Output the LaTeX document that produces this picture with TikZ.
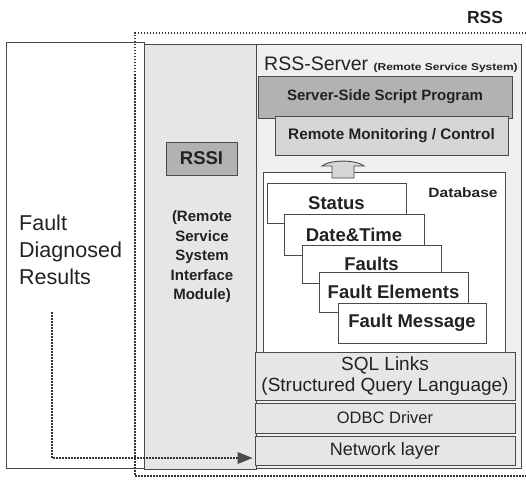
\documentclass[tikz,border=0pt]{standalone}
\usepackage{fontspec}
\setmainfont{Liberation Sans}
\usetikzlibrary{arrows.meta}
\definecolor{ln}{HTML}{4A4A4A}
\definecolor{dotc}{HTML}{333333}
\definecolor{txt}{HTML}{222222}
\definecolor{panel}{HTML}{E6E6E6}
\definecolor{server}{HTML}{F0F0F0}
\definecolor{dark}{HTML}{B2B2B2}
\definecolor{mid}{HTML}{D6D6D6}
\definecolor{layer}{HTML}{E6E6E6}
\begin{document}
\begin{tikzpicture}[x=1pt,y=-1pt,
  box/.style={draw=ln, line width=0.9pt, inner sep=0pt, text=txt, align=center},
  tbl/.style={box, fill=white, font=\fontsize{18.5}{22}\selectfont\bfseries},
  lay/.style={box, fill=layer, minimum width=260pt},
  dots/.style={draw=dotc, line width=1.6pt, dash pattern=on 1.5pt off 1.5pt}]
\useasboundingbox (0,0) rectangle (526,481);
\fill[white] (0,0) rectangle (526,481);
% panels
\node[box, fill=white, minimum width=138pt, minimum height=426pt] (left) at (75,255) {};
\node[box, fill=panel, minimum width=112pt, minimum height=425pt] (rssipanel) at (200,256.5) {};
\node[box, fill=server, minimum width=265pt, minimum height=424pt] (srv) at (388.5,256) {};
% RSS boundary
\draw[dots] (526,33) -- (135,33) -- (135,476) -- (526,476);
\node[text=txt, font=\fontsize{17.5}{20}\selectfont\bfseries] (rss) at (485,17) {RSS};
% server title
\node[anchor=base west, inner sep=0pt, text=txt] (srvtitle) at (264,71)
  {\fontsize{19.5}{22}\selectfont RSS-Server \fontsize{10}{12}\selectfont\bfseries\scalebox{1.2}[1]{(Remote Service System)}};
% server boxes
\node[box, fill=dark, minimum width=254pt, minimum height=42pt, font=\fontsize{15}{18}\selectfont\bfseries] (ssp) at (385,97) {Server-Side Script Program};
\node[box, fill=mid, minimum width=233pt, minimum height=39pt, font=\fontsize{15.3}{18}\selectfont\bfseries] (rmc) at (391.5,135.5) {Remote Monitoring / Control};
% database
\node[box, fill=white, minimum width=242pt, minimum height=180pt] (db) at (384,262) {};
\node[text=txt, font=\fontsize{13.5}{16}\selectfont\bfseries, inner sep=0pt] (dbl) at (463,193) {\scalebox{1.15}[1]{Database}};
\node[tbl, minimum width=139pt, minimum height=40pt] (status) at (336.5,203) {Status};
\node[tbl, minimum width=140pt, minimum height=41pt] (dt) at (354,234.5) {Date\&Time};
\node[tbl, minimum width=139pt, minimum height=38pt] (faults) at (371.5,264) {Faults};
\node[tbl, minimum width=149pt, minimum height=40pt] (fe) at (393.5,292) {Fault Elements};
\node[tbl, minimum width=148pt, minimum height=40pt] (fm) at (412,323) {Fault Message};
% block arrow
\filldraw[draw=ln, fill=mid, line width=0.9pt] (332,178) -- (332,166) -- (322,166) .. controls (330,159.5) and (356,159.5) .. (364,166) -- (354,166) -- (354,178) -- cycle;
% lower layers
\node[lay, minimum height=48pt, font=\fontsize{19}{21.5}\selectfont] (sql) at (385,376) {SQL Links\\(Structured Query Language)};
\node[lay, minimum height=30pt, font=\fontsize{16.5}{20}\selectfont] (odbc) at (385,418) {ODBC Driver};
\node[lay, minimum height=29pt, font=\fontsize{18}{20}\selectfont] (net) at (385,450.5) {Network layer};
% RSSI
\node[box, fill=dark, minimum width=71pt, minimum height=33pt, font=\fontsize{18.5}{20}\selectfont\bfseries] (rssi) at (201.5,158.5) {RSSI};
\node[text=txt, align=center, inner sep=0pt, font=\fontsize{15}{19.5}\selectfont\bfseries] (rssidesc) at (202,257) {(Remote\\Service\\System\\Interface\\Module)};
% fault results
\node[anchor=west, text=txt, align=left, inner sep=0pt, font=\fontsize{21.5}{27}\selectfont] (fdr) at (19,250) {Fault\\Diagnosed\\Results};
\coordinate (astart) at (52,312);
\draw[dots, -{Triangle[length=15pt,width=12pt,fill=ln,line width=0pt]}, shorten >=2pt] (astart) |- ([yshift=-7.5pt]net.west);
\end{tikzpicture}
\end{document}
